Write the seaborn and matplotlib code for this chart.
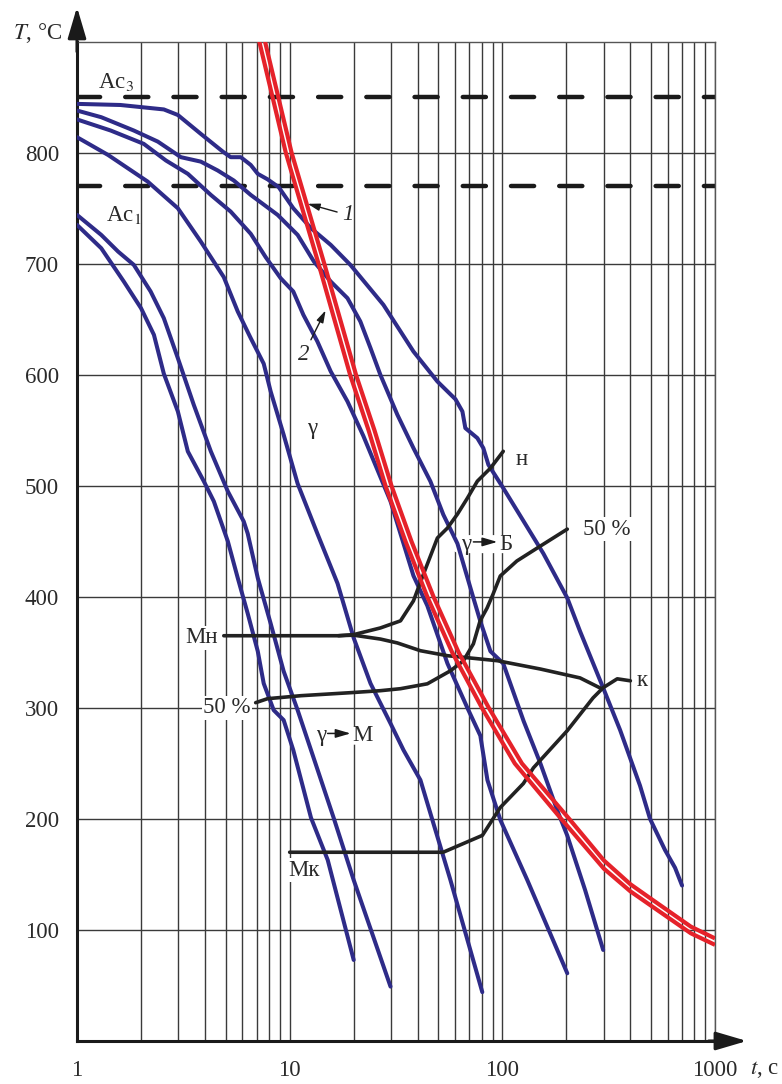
import numpy as np
import matplotlib
matplotlib.use("Agg")
import matplotlib.pyplot as plt
import matplotlib.ticker as mticker
import seaborn as sns

# ---------------- data ----------------
t_ticks = [1, 10, 100, 1000]
T_ticks = [100, 200, 300, 400, 500, 600, 700, 800]
Ac3 = 850
Ac1 = 770

blue1_t = [1.0, 1.6, 2.56, 2.98, 3.82, 4.85, 5.28, 5.89, 6.56, 7.08, 7.88, 8.88, 10.4, 12.6, 15.6, 19.3,
           27.6, 38.2, 49.5, 60.2, 64.9, 67.0, 76.3, 81.4, 86.0, 101, 126, 156, 202, 232, 298, 358, 444,
           495, 582, 649, 700]
blue1_T = [844, 843, 839, 834, 817, 801, 796, 796, 789, 781, 776, 769, 750, 732, 717, 699,
           663, 621, 594, 578, 567, 552, 543, 534, 519, 498, 468, 439, 399, 369, 318, 280, 230,
           200, 172, 156, 140]

blue2_t = [1.0, 1.30, 1.85, 2.40, 3.08, 3.82, 4.59, 5.46, 6.56, 8.78, 10.9, 13.0, 15.6, 18.7, 21.5,
           24.0, 26.7, 32.1, 38.2, 45.9, 52.8, 61.5, 73.1, 78.8, 87.9, 101, 126, 151, 181, 202, 245, 298]
blue2_T = [838, 832, 820, 810, 796, 792, 784, 775, 762, 744, 726, 702, 684, 669, 648,
           624, 600, 564, 534, 504, 474, 448, 399, 378, 351, 340, 288, 250, 208, 185, 136, 82]

blue3_t = [1.0, 1.44, 2.06, 2.62, 3.32, 4.26, 5.28, 6.56, 7.71, 9.07, 10.4, 11.6, 13.5, 15.6, 18.7,
           22.2, 29.8, 38.2, 44.4, 55.2, 68.5, 78.8, 85.1, 97.9, 131, 202]
blue3_T = [830, 820, 808, 793, 781, 762, 747, 727, 706, 687, 675, 654, 630, 603, 576,
           545, 486, 419, 392, 340, 300, 275, 235, 199, 145, 61]

blue4_t = [1.0, 1.40, 2.15, 2.98, 3.82, 4.90, 5.70, 6.56, 7.55, 8.14, 9.37, 10.9, 13.5, 16.8, 20.0,
           24.0, 29.8, 34.3, 41.2, 45.9, 57.0, 80.5]
blue4_T = [814, 798, 774, 750, 720, 688, 657, 633, 610, 585, 546, 502, 457, 412, 363,
           322, 286, 262, 235, 205, 145, 44]

blue5_t = [1.0, 1.30, 1.56, 1.85, 2.22, 2.56, 2.98, 3.54, 4.26, 5.12, 6.08, 6.35, 7.08, 8.14, 9.37,
           10.9, 12.6, 16.1, 20.0, 29.8]
blue5_T = [744, 726, 711, 699, 675, 651, 615, 573, 531, 495, 468, 457, 417, 376, 333,
           298, 262, 201, 145, 49]

blue6_t = [1.0, 1.30, 1.66, 2.0, 2.30, 2.56, 2.98, 3.32, 3.95, 4.40, 5.12, 5.70, 6.35, 7.08, 7.55,
           8.41, 9.37, 10.4, 12.6, 15.1, 20.0]
blue6_T = [735, 714, 684, 660, 636, 601, 567, 531, 504, 486, 450, 417, 385, 351, 322,
           298, 289, 262, 201, 163, 73]

# cooling curves 1 (right) and 2 (left)
red1_t = [7.66, 10.21, 14.55, 20.51, 25.05, 30.12, 37.39, 47.5, 62.3, 86.4, 123.6, 206.4,
          300, 400, 500, 770, 1000]
red1_T = [900, 800, 700, 600, 550, 500, 450, 400, 350, 300, 250, 200,
          162.7, 141.2, 128.1, 103, 92.4]
red2_t = [7.20, 9.59, 13.67, 19.24, 23.5, 28.23, 35.04, 44.4, 58.1, 80.2, 114.4, 189.2,
          300, 400, 500, 770, 1000]
red2_T = [900, 800, 700, 600, 550, 500, 450, 400, 350, 300, 250, 200,
          155.3, 134.8, 121.9, 97, 86.6]

# transformation lines
ms_t = [4.9, 9.4, 16.8, 20.0, 26.7, 32.1, 41.2, 55.2, 94.8, 151, 232, 288]
ms_T = [365, 365, 365, 365.5, 362, 358.5, 351.5, 347, 342.5, 335, 327, 318]
bs_t = [17.0, 20, 26.7, 33.2, 38.2, 42.6, 49.5, 55.2, 61.5, 68.5, 76.3, 87.9, 101]
bs_T = [365, 366, 372, 378.4, 396.4, 420.6, 453, 462, 474.5, 488.9, 504.2, 515.9, 531.1]
b50_t = [6.92, 7.87, 11.3, 19.3, 26.7, 33.2, 44.4, 57.0, 65.6, 73.1, 78.6, 84.8, 90.5, 97.8, 117, 146, 202]
b50_T = [304.7, 308.3, 311, 313.7, 315.5, 317.3, 321.7, 333.4, 342.4, 357.7, 378.4, 390, 402.6,
         418.8, 432.3, 444, 461]
bf_t = [10, 26.7, 52.7, 80.6, 97.8, 125.6, 140, 202, 267, 298, 347, 400]
bf_T = [170, 170, 170, 185.2, 210.3, 231.9, 246, 279.5, 309, 318.2, 326.2, 324.4]

# ---------------- style ----------------
sns.set_theme(style="white")
plt.rcParams['font.family'] = ['Liberation Serif', 'DejaVu Serif']
plt.rcParams['mathtext.fontset'] = 'stix'

BLUE = '#2E2B88'
RED = '#E5222A'
INK = '#222222'
GRID = '#3a3a3a'
TXT = '#2a2a2a'
FS = 16.5

fig = plt.figure(figsize=(7.82, 10.84), dpi=100)
ax = fig.add_axes([77 / 782, (1084 - 1041) / 1084, 638 / 782, 999.3 / 1084])
ax.set_xscale('log')
ax.set_xlim(1, 1000)
ax.set_ylim(0, 900)

ax.set_xticks(t_ticks)
ax.set_xticklabels([str(v) for v in t_ticks])
ax.xaxis.set_minor_locator(mticker.LogLocator(base=10, subs=np.arange(2, 10)))
ax.xaxis.set_minor_formatter(mticker.NullFormatter())
ax.set_yticks(T_ticks)
ax.set_yticklabels([str(v) for v in T_ticks])
ax.grid(True, which='both', axis='x', color=GRID, lw=1.0)
ax.grid(True, which='major', axis='y', color=GRID, lw=1.0)
ax.set_axisbelow(True)
ax.tick_params(which='both', length=0)
ax.tick_params(axis='x', pad=14, labelsize=FS, labelcolor=TXT)
ax.tick_params(axis='y', pad=13, labelsize=FS, labelcolor=TXT)

for s in ('left', 'bottom'):
    ax.spines[s].set_linewidth(2.2)
    ax.spines[s].set_color('#1a1a1a')
for s in ('top', 'right'):
    ax.spines[s].set_linewidth(1.0)
    ax.spines[s].set_color('#555555')

# axis arrows
arr = dict(arrowstyle='-|>,head_length=0.95,head_width=0.28', mutation_scale=20,
           lw=2.2, color='#1a1a1a', shrinkA=0, shrinkB=0)
ax.annotate('', xy=(0, 1.0347), xycoords='axes fraction', xytext=(0, 0.99),
            textcoords='axes fraction', arrowprops=arr, annotation_clip=False)
ax.annotate('', xy=(1.050, 0), xycoords='axes fraction', xytext=(0.99, 0),
            textcoords='axes fraction', arrowprops=arr, annotation_clip=False)

# critical points
for lvl in (Ac3, Ac1):
    ax.axhline(lvl, color='#1a1a1a', lw=3.2, linestyle=(0.0, (5.2, 5.65)),
               dash_capstyle='round', zorder=2)

# cooling curves (blue)
for tt, TT in [(blue1_t, blue1_T), (blue2_t, blue2_T), (blue3_t, blue3_T),
               (blue4_t, blue4_T), (blue5_t, blue5_T), (blue6_t, blue6_T)]:
    sns.lineplot(x=tt, y=TT, ax=ax, color=BLUE, lw=2.9, sort=False, estimator=None,
                 solid_capstyle='round', solid_joinstyle='round', zorder=3, legend=False)

# transformation lines (black)
for tt, TT in [(ms_t, ms_T), (bs_t, bs_T), (b50_t, b50_T), (bf_t, bf_T)]:
    sns.lineplot(x=tt, y=TT, ax=ax, color=INK, lw=2.6, sort=False, estimator=None,
                 solid_capstyle='round', solid_joinstyle='round', zorder=3, legend=False)

# red curves
for tt, TT in [(red1_t, red1_T), (red2_t, red2_T)]:
    sns.lineplot(x=tt, y=TT, ax=ax, color=RED, lw=3.0, sort=False, estimator=None,
                 solid_capstyle='butt', solid_joinstyle='round', zorder=4, legend=False)

# ---------------- texts ----------------
wb = dict(facecolor='white', edgecolor='none', pad=1.0)
ax.text(-0.0235, 1.0087, '$T$, °C', transform=ax.transAxes, ha='right', va='center',
        fontsize=FS, color=TXT)
ax.text(1.0549, -0.029, '$t$, с', transform=ax.transAxes, ha='left', va='center',
        fontsize=FS, color=TXT)

ax.text(1.255, 864, 'Ac$_3$', ha='left', va='center', fontsize=FS, color=TXT)
ax.text(1.37, 744, 'Ac$_1$', ha='left', va='center', fontsize=FS, color=TXT)

small_arr = dict(arrowstyle='-|>,head_length=0.6,head_width=0.18', mutation_scale=12,
                 lw=1.0, color='#1a1a1a', shrinkA=1, shrinkB=0)
ax.annotate('1', xy=(12.15, 754), xytext=(18.7, 744), ha='center', va='center',
            fontsize=FS, fontstyle='italic', color=TXT, arrowprops=small_arr, zorder=5)
ax.annotate('2', xy=(14.76, 658), xytext=(11.6, 618), ha='center', va='center',
            fontsize=FS, fontstyle='italic', color=TXT, arrowprops=small_arr, zorder=5)

ax.text(12.8, 552, 'γ', ha='center', va='center', fontsize=FS, color=TXT)

# "γ → Б" and "γ → М" labels: white backing strip, letters and a drawn arrow
lab_arr = dict(arrowstyle='-|>,head_length=0.75,head_width=0.22', mutation_scale=12,
               lw=1.1, color='#1a1a1a', shrinkA=0, shrinkB=0)
back = dict(arrowstyle='-', lw=13, color='white', shrinkA=0, shrinkB=0)
for (tg, t0, t1, tl, ta, tz, Ty, letter) in [
        (67.8, 73.1, 94.7, 104.0, 63.0, 112.0, 447.5, 'Б'),
        (13.98, 15.08, 19.34, 22.0, 12.9, 24.6, 275, 'М')]:
    ax.annotate('', xy=(tz, Ty), xytext=(ta, Ty), arrowprops=back, zorder=2.5)
    ax.text(tg, Ty, 'γ', ha='center', va='center', fontsize=FS, color=TXT, zorder=2.6)
    ax.text(tl, Ty, letter, ha='center', va='center', fontsize=FS, color=TXT, zorder=2.6)
    ax.annotate('', xy=(t1, Ty + 2), xytext=(t0, Ty + 2), arrowprops=lab_arr, zorder=2.6)

ax.text(4.59, 363, 'Мн', ha='right', va='center', fontsize=FS, color=TXT,
        bbox=wb, zorder=2.5)
ax.text(6.56, 300, '50 %', ha='right', va='center', fontsize=FS, color=TXT,
        bbox=wb, zorder=2.5)
ax.text(240, 461, '50 %', ha='left', va='center', fontsize=FS, color=TXT,
        bbox=wb, zorder=2.5)
ax.text(115, 524, 'н', ha='left', va='center', fontsize=FS, color=TXT,
        bbox=wb, zorder=2.5)
ax.text(430, 324.5, 'к', ha='left', va='center', fontsize=FS, color=TXT,
        bbox=wb, zorder=2.5)
ax.text(9.9, 154, 'Мк', ha='left', va='center', fontsize=FS, color=TXT,
        bbox=wb, zorder=2.5)

fig.savefig('out.png', dpi=100, facecolor='white')
